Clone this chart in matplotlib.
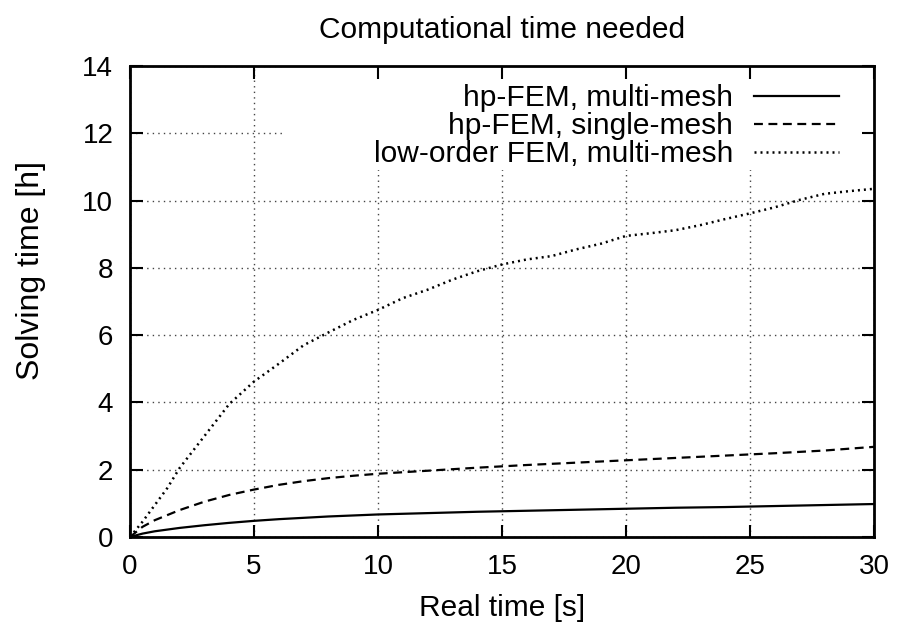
import matplotlib
matplotlib.use('Agg')
import matplotlib.pyplot as plt
from matplotlib.patches import Rectangle

plt.rcParams['font.family'] = ['Liberation Sans', 'DejaVu Sans']
plt.rcParams['font.size'] = 20

# data (time in s, solving time in h)
t_hp = [0, 0.5, 1, 2, 3, 4, 5, 6, 7, 8, 9, 10, 12, 14, 16, 18, 20, 22, 24, 26, 28, 30]
hp_multi = [0, 0.1, 0.17, 0.27, 0.35, 0.42, 0.48, 0.53, 0.57, 0.61, 0.64, 0.67,
            0.71, 0.75, 0.78, 0.81, 0.84, 0.87, 0.89, 0.92, 0.95, 0.98]
hp_single = [0, 0.3, 0.5, 0.8, 1.05, 1.25, 1.41, 1.55, 1.66, 1.75, 1.82, 1.88,
             1.97, 2.06, 2.14, 2.21, 2.28, 2.35, 2.42, 2.49, 2.57, 2.68]

t_low = [0, 0.5, 1, 1.5, 2, 3, 4, 5, 6, 7, 8, 9, 10, 11, 12, 13, 14, 15, 16, 17,
         18, 19, 20, 21, 22, 23, 24, 25, 26, 27, 28, 29, 30]
low_multi = [0, 0.45, 0.95, 1.45, 2.05, 3.0, 3.95, 4.62, 5.15, 5.7, 6.08, 6.45,
             6.75, 7.1, 7.35, 7.65, 7.9, 8.1, 8.25, 8.35, 8.55, 8.72, 8.95, 9.03,
             9.12, 9.27, 9.45, 9.62, 9.8, 10.02, 10.2, 10.28, 10.35]

labels = ['hp-FEM, multi-mesh', 'hp-FEM, single-mesh', 'low-order FEM, multi-mesh']

fig = plt.figure(figsize=(8.98, 6.27), dpi=100)
rect = [130/898, 90/627, 744/898, 471/627]
ax = fig.add_axes(rect)

ax.set_xlim(0, 30)
ax.set_ylim(0, 14)
ax.set_xticks(range(0, 31, 5))
ax.set_yticks(range(0, 15, 2))
ax.grid(True, color='#444444', linestyle=(0, (1, 3)), linewidth=1)
ax.tick_params(length=0, pad=12)

ax.plot(t_hp, hp_multi, color='black', lw=1.6, label=labels[0], zorder=3)
ax.plot(t_hp, hp_single, color='black', lw=1.6, ls=(0, (4, 2.5)), label=labels[1], zorder=3)
ax.plot(t_low, low_multi, color='black', lw=1.8, ls=(0, (0.8, 1.6)), label=labels[2], zorder=3)

# white key box over the grid
ax.add_patch(Rectangle((0.204, 0.779), 0.8, 0.25, transform=ax.transAxes,
                       facecolor='white', edgecolor='none', zorder=2))

# markerfirst=False -> text right-aligned, sample on the right (gnuplot style)
ax.legend(loc='upper right', bbox_to_anchor=(0.981, 1.006), frameon=False,
          fontsize=21.5, markerfirst=False, handlelength=2.85, handletextpad=0.7,
          labelspacing=0.0, borderaxespad=0.25, borderpad=0.45)

for s in ax.spines.values():
    s.set_visible(False)

# overlay axes for border and inward ticks (drawn above the key box)
ax2 = fig.add_axes(rect, facecolor='none', zorder=ax.zorder + 1)
ax2.set_xlim(0, 30)
ax2.set_ylim(0, 14)
ax2.set_xticks(range(0, 31, 5))
ax2.set_yticks(range(0, 15, 2))
ax2.tick_params(direction='in', length=9, width=1.5, top=True, right=True,
                labelbottom=False, labelleft=False)
for s in ax2.spines.values():
    s.set_linewidth(2)

ax.set_title('Computational time needed', fontsize=21.5, pad=20)
ax.set_xlabel('Real time [s]', fontsize=21.5, labelpad=10)
ax.set_ylabel('Solving time [h]', fontsize=23, labelpad=26)
ax.yaxis.label.set_y(0.565)

fig.savefig('out.png', dpi=100)
